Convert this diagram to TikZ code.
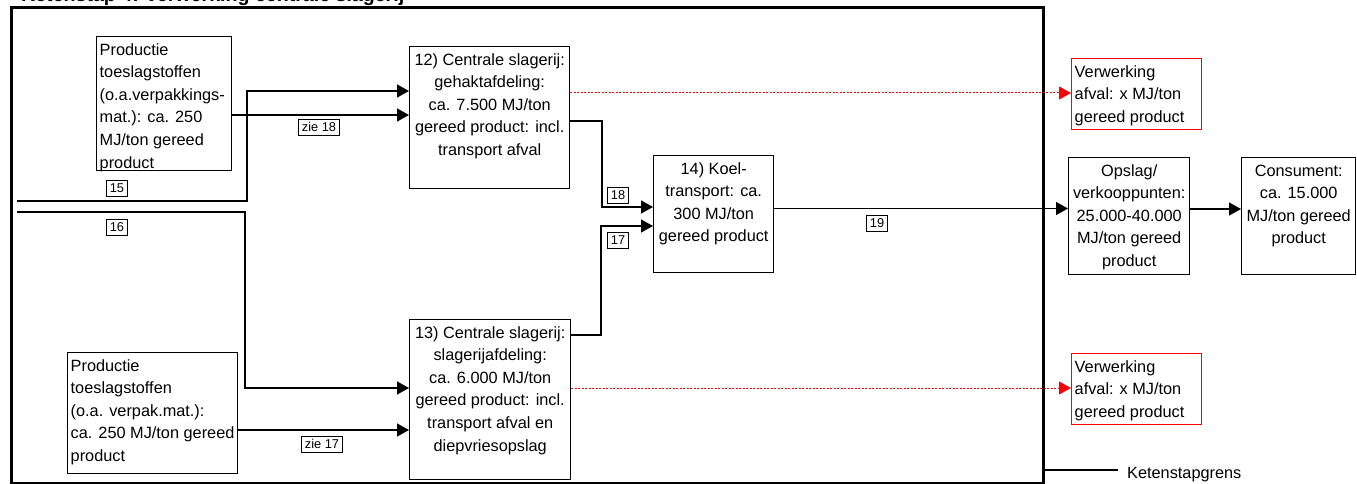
\documentclass[tikz,border=0pt]{standalone}
\usepackage{fontspec}
\setmainfont{Liberation Sans}
\usetikzlibrary{arrows.meta}
\newcommand\bxtxt[4]{\parbox[c][#2pt][t]{#1pt}{#3\fontsize{16.3}{22.6}\selectfont\vspace*{2.5pt}\strut #4}}
\newcommand\lft{\raggedright\leftskip=3pt\relax}
\begin{document}
\begin{tikzpicture}[x=1pt,y=-1pt,
  bx/.style={draw=black, line width=1.4pt, inner sep=0pt, anchor=north west},
  rbx/.style={draw=red, line width=1.4pt, inner sep=0pt, anchor=north west},
  lab/.style={draw=black, line width=0.9pt, inner xsep=3.8pt, inner ysep=0pt, minimum height=16pt, font=\fontsize{12.8}{14}\selectfont},
  arr/.style={line width=1.3pt, -{Triangle[length=12pt,width=13pt]}},
  rarr/.style={color=red, line width=1pt, dash pattern=on 2pt off 1.5pt, -{Triangle[length=12pt,width=13pt,fill=red,color=red]}},
  ln/.style={line width=1.3pt},
  framebox/.style={draw=black, line width=3pt, inner sep=0pt, anchor=north west}]
\useasboundingbox (0,0) rectangle (1357,484);
\fill[white] (0,0) rectangle (1357,484);
% title (clipped at top of page, as in the reference)
\node[font=\bfseries\fontsize{19.6}{22}\selectfont, anchor=base west, inner sep=0pt] (title) at (21,1.5) {Ketenstap 4: verwerking centrale slagerij};
% chain-step boundary
\node[framebox, minimum width=1032.3pt, minimum height=475.5pt] (frame) at (10,6) {};
% boxes
\node[bx] (bA) at (96,36) {\bxtxt{135}{134}{\lft}{Productie\\toeslagstoffen\\(o.a.verpakkings-\\mat.): ca. 250\\MJ/ton gereed\\product}};
\node[bx] (bB) at (67,352) {\bxtxt{170}{121}{\lft}{Productie\\toeslagstoffen\\(o.a. verpak.mat.):\\ca. 250 MJ/ton gereed\\product}};
\node[bx] (b12) at (409,46) {\bxtxt{160}{142}{\centering}{12) Centrale slagerij:\\gehaktafdeling:\\ca. 7.500 MJ/ton\\gereed product: incl.\\transport afval}};
\node[bx] (b13) at (409,319) {\bxtxt{161}{160}{\centering}{13) Centrale slagerij:\\slagerijafdeling:\\ca. 6.000 MJ/ton\\gereed product: incl.\\transport afval en\\diepvriesopslag}};
\node[bx] (b14) at (653,155) {\bxtxt{120}{117}{\centering}{14) Koel-\\transport: ca.\\300 MJ/ton\\gereed product}};
\node[bx] (bOp) at (1068,157) {\bxtxt{121}{117}{\centering}{Opslag/\\verkooppunten:\\25.000-40.000\\MJ/ton gereed\\product}};
\node[bx] (bCo) at (1241,157) {\bxtxt{114}{117}{\centering}{Consument:\\ca. 15.000\\MJ/ton gereed\\product}};
\node[rbx] (rT) at (1071,58) {\bxtxt{130}{71}{\lft}{Verwerking\\afval: x MJ/ton\\gereed product}};
\node[rbx] (rB) at (1071,353) {\bxtxt{130}{71}{\lft}{Verwerking\\afval: x MJ/ton\\gereed product}};
% legend
\node[anchor=base west, inner xsep=9pt, inner ysep=0pt, font=\fontsize{16.3}{20}\selectfont] (leg) at (1118,478.5) {Ketenstapgrens};
\draw[line width=1.3pt] (frame.east |- 0,470) -- (leg.west |- 0,470);
% coordinates
\coordinate (s15) at (17,201);
\coordinate (k15) at (247,201);
\coordinate (s16) at (17,212);
\coordinate (k16) at (245,212);
\coordinate (k18) at (602,121);
\coordinate (k17) at (601,335);
% connectors
\draw[arr] (s15) -- (k15) |- (b12.west |- 0,91);
\draw[arr] (bA.east |- 0,115) -- (b12.west |- 0,115);
\draw[arr] (s16) -- (k16) |- (b13.west |- 0,388);
\draw[arr] (bB.east |- 0,430) -- (b13.west |- 0,430);
\draw[arr] (b12.east |- 0,121) -- (k18) |- (b14.west |- 0,207);
\draw[arr] (b13.east |- 0,335) -- (k17) |- (b14.west |- 0,226);
\draw[arr] (b14.east |- 0,208.5) -- (bOp.west |- 0,208.5);
\draw[arr] (bOp.east |- 0,209) -- (bCo.west |- 0,209);
\draw[rarr] (b12.east |- 0,93) -- (rT.west |- 0,93);
\draw[rarr] (b13.east |- 0,388) -- (rB.west |- 0,388);
% labels
\node[lab] (l15) at (117,188) {15};
\node[lab] (l16) at (117,227) {16};
\node[lab] (lz18) at (319,127) {zie 18};
\node[lab] (lz17) at (322,444) {zie 17};
\node[lab] (l18) at (618,195) {18};
\node[lab] (l17) at (618,240) {17};
\node[lab] (l19) at (877,223) {19};
\end{tikzpicture}
\end{document}
